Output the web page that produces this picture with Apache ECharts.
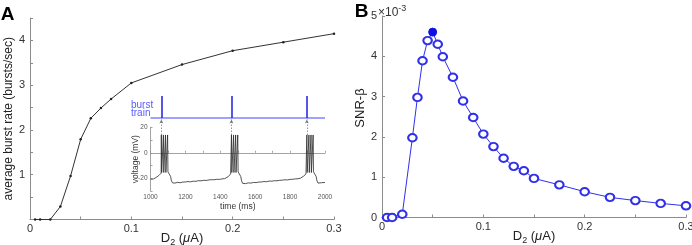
<!DOCTYPE html>
<html><head><meta charset="utf-8">
<script src="https://cdn.jsdelivr.net/npm/echarts@6/dist/echarts.min.js"></script>
<style>html,body{margin:0;padding:0;background:#fff}#c{width:692px;height:245px}</style>
</head><body><div id="c"></div>
<script>
// Panel A: average burst rate vs D2
const dA = [0.005, 0.01, 0.02, 0.03, 0.04, 0.05, 0.06, 0.07, 0.08, 0.1, 0.15, 0.2, 0.25, 0.3];
const burstRate = [0, 0, 0, 0.29, 0.97, 1.79, 2.26, 2.49, 2.69, 3.05, 3.46, 3.77, 3.96, 4.15];
// Panel B: SNR-beta (x10^-3) vs D2
const dB = [0.005, 0.01, 0.02, 0.03, 0.035, 0.04, 0.045, 0.05, 0.055, 0.06, 0.07, 0.08, 0.09, 0.1, 0.11, 0.12, 0.13, 0.14, 0.15, 0.175, 0.2, 0.225, 0.25, 0.275, 0.3];
const snr = [0.0, 0.0, 0.08, 1.98, 2.98, 3.89, 4.39, 4.6, 4.30, 3.99, 3.48, 2.89, 2.48, 2.07, 1.76, 1.47, 1.27, 1.16, 0.97, 0.81, 0.64, 0.50, 0.42, 0.35, 0.29];
const peakIndex = 7;
// Inset: voltage trace (time ms, voltage mV)
const traceTime = [1000,1008,1016,1024,1032,1040,1048,1055,1061,1062,1064,1073,1074,1076,1085,1086,1088,1097,1098,1100,1105,1110,1115,1120,1126,1140,1155,1170,1185,1200,1215,1230,1245,1260,1275,1290,1305,1320,1335,1350,1365,1380,1395,1410,1425,1436,1445,1452,1459,1463,1464,1466,1475,1476,1478,1487,1488,1490,1499,1500,1502,1507,1512,1517,1522,1528,1545,1560,1575,1590,1605,1620,1635,1650,1665,1680,1695,1710,1725,1740,1755,1770,1785,1800,1815,1830,1845,1858,1868,1877,1885,1891,1895,1896,1898,1907,1908,1910,1919,1920,1922,1931,1932,1934,1939,1944,1949,1954,1960,1970,1980,1990,2000];
const traceVolt = [-20.8,-20.3,-20.6,-19.8,-19.4,-18.6,-17.8,-16.8,-16,14,-15.5,-15,14,-15.5,-15,14,-15.5,-15,14,-15,-14.3,-15.2,-18.5,-22,-23.6,-23.8,-23.2,-23.5,-23,-22.9,-22.6,-22.8,-22.3,-22.4,-21.9,-22,-21.6,-21.7,-21.3,-21.1,-21.2,-20.8,-20.9,-20.5,-20.3,-19.6,-18.8,-17.8,-16.6,-16,14,-15.5,-15,14,-15.5,-15,14,-15.5,-15,14,-15,-14.3,-15.2,-18.5,-22,-24,-24.2,-23.6,-23.8,-23.3,-23.4,-23,-22.9,-22.6,-22.7,-22.2,-22.3,-21.9,-22,-21.6,-21.5,-21.2,-21.3,-20.9,-20.8,-20.5,-20.4,-20,-19.3,-18.4,-17.4,-16.6,-16,14,-15.5,-15,14,-15.5,-15,14,-15.5,-15,14,-15,-14.3,-15.2,-18.5,-22,-23.8,-24,-23.5,-23.7,-23.3];
const burstTimes = [1062, 1464, 1896];
const xTicksD = [0, 0.1, 0.2, 0.3];

const FF = 'Liberation Sans';
const AX = '#8c8c8c';
const LBL = '#333';
const BLUE = '#3030ea';

function dLabel(v) {
  for (const t of xTicksD) if (Math.abs(v - t) < 1e-9) return t === 0 ? '0' : t.toFixed(1);
  return '';
}
const dName = {
  name: '{a|D}{s|2}{a| (}{m|\u03bc}{a|A)}',
  nameLocation: 'middle',
  nameGap: 11,
  nameMoveOverlap: false,
  nameTextStyle: {
    rich: {
      a: {fontSize: 13, fontFamily: FF, color: '#222', lineHeight: 16},
      m: {fontSize: 13, fontFamily: FF, color: '#222', fontStyle: 'italic', lineHeight: 16},
      s: {fontSize: 9, fontFamily: FF, color: '#222', lineHeight: 9, padding: [8, 0, 0, 0]}
    }
  }
};
function mainX(grid) {
  return Object.assign({
    gridIndex: grid, type: 'value', min: 0, max: 0.3, interval: 0.05,
    axisLine: {lineStyle: {color: AX, width: 1}},
    axisTick: {inside: true, length: 3, lineStyle: {color: AX}},
    axisLabel: {color: LBL, fontSize: 11, fontFamily: FF, margin: 4, formatter: dLabel},
    splitLine: {show: false}
  }, dName);
}

const trace = traceTime.map((t, i) => [t, traceVolt[i]]);
const burstLines = burstTimes.map(t => [{coord: [t, 0]}, {coord: [t, 22]}]);
const arrowLines = burstTimes.map(t => [{coord: [t, -17]}, {coord: [t, -1.5]}]);

const chart = echarts.init(document.getElementById('c'), null, {renderer: 'canvas'});
chart.setOption({
  animation: false,
  grid: [
    {left: 30, top: 18, width: 304, height: 201.5, outerBoundsMode: 'none'},
    {left: 150.5, top: 127.3, width: 174.5, height: 63.7, outerBoundsMode: 'none'},
    {left: 150.5, top: 96, width: 174.5, height: 40, outerBoundsMode: 'none'},
    {left: 382, top: 16, width: 304, height: 201.5, outerBoundsMode: 'none'}
  ],
  xAxis: [
    mainX(0),
    {
      gridIndex: 1, type: 'value', min: 1000, max: 2000, interval: 100,
      axisLine: {lineStyle: {color: AX, width: 0.8}},
      axisTick: {inside: true, length: 2, lineStyle: {color: AX, width: 0.8}},
      axisLabel: {color: '#555', fontSize: 6.5, fontFamily: FF, margin: 3,
        formatter: v => (v % 200 === 0 ? String(v) : '')},
      splitLine: {show: false},
      name: 'time (ms)', nameLocation: 'middle', nameGap: 11, nameMoveOverlap: false,
      nameTextStyle: {fontSize: 8.5, fontFamily: FF, color: '#333'}
    },
    {gridIndex: 2, type: 'value', min: 1000, max: 2000, show: false},
    mainX(3)
  ],
  yAxis: [
    {
      gridIndex: 0, type: 'value', min: 0, max: 4.5, interval: 0.5,
      axisLine: {show: true, lineStyle: {color: AX, width: 1}},
      axisTick: {show: true, inside: true, length: 3, lineStyle: {color: AX}},
      axisLabel: {color: LBL, fontSize: 11, fontFamily: FF, margin: 5,
        formatter: v => (v > 0 && Math.abs(v - Math.round(v)) < 1e-9 ? String(Math.round(v)) : '')},
      splitLine: {show: false},
      name: 'average burst rate (bursts/sec)', nameLocation: 'middle', nameGap: 15, nameMoveOverlap: false,
      nameTextStyle: {fontSize: 12, fontFamily: FF, color: '#222'}
    },
    {
      gridIndex: 1, type: 'value', min: -30, max: 20, interval: 10,
      axisLine: {show: true, lineStyle: {color: AX, width: 0.8}},
      axisTick: {show: true, inside: true, length: 2, lineStyle: {color: AX, width: 0.8}},
      axisLabel: {color: '#555', fontSize: 6.5, fontFamily: FF, margin: 3,
        formatter: v => (v % 20 === 0 ? String(v) : '')},
      splitLine: {show: false},
      name: 'voltage (mV)', nameLocation: 'middle', nameGap: 10, nameMoveOverlap: false,
      nameTextStyle: {fontSize: 8.5, fontFamily: FF, color: '#333'}
    },
    {gridIndex: 2, type: 'value', min: -18, max: 22, show: false},
    {
      gridIndex: 3, type: 'value', min: 0, max: 5, interval: 1,
      axisLine: {show: true, lineStyle: {color: AX, width: 1}},
      axisTick: {show: true, inside: true, length: 3, lineStyle: {color: AX}},
      axisLabel: {color: LBL, fontSize: 11, fontFamily: FF, margin: 5},
      splitLine: {show: false}
    }
  ],
  series: [
    {
      type: 'line', xAxisIndex: 0, yAxisIndex: 0,
      data: dA.map((d, i) => [d, burstRate[i]]),
      symbol: 'circle', symbolSize: 2.5, showSymbol: true,
      lineStyle: {color: '#333', width: 1}, itemStyle: {color: '#222'}
    },
    {
      type: 'line', xAxisIndex: 1, yAxisIndex: 1, data: trace,
      showSymbol: false, symbol: 'none',
      lineStyle: {color: '#2a2a2a', width: 0.8}
    },
    {
      type: 'line', xAxisIndex: 2, yAxisIndex: 2,
      data: [[1000, 0], [2000, 0]], showSymbol: false, symbol: 'none',
      lineStyle: {color: '#8282ff', width: 1.6},
      markLine: {
        silent: true, symbol: ['none', 'none'], label: {show: false},
        lineStyle: {color: '#1e1ee6', width: 1.5, type: 'solid'},
        data: burstLines
      }
    },
    {
      type: 'line', xAxisIndex: 2, yAxisIndex: 2, data: [], symbol: 'none',
      markLine: {
        silent: true, symbol: ['none', 'arrow'], symbolSize: [3, 4], label: {show: false},
        lineStyle: {color: '#777', width: 0.8, type: [1.5, 1.5]},
        data: arrowLines
      }
    },
    {
      type: 'line', xAxisIndex: 3, yAxisIndex: 3,
      data: dB.map((d, i) => ({
        value: [d, snr[i]],
        symbol: i === peakIndex ? 'circle' : 'emptyCircle',
        symbolSize: i === peakIndex ? 8 : [8.5, 7.5],
        itemStyle: i === peakIndex ? {color: '#1010e0', borderColor: '#1010e0', borderWidth: 1} : {color: BLUE, borderColor: BLUE, borderWidth: 0.9}
      })),
      showSymbol: true,
      lineStyle: {color: BLUE, width: 1},
      itemStyle: {color: BLUE, borderColor: BLUE, borderWidth: 0.9}
    }
  ],
  graphic: [
    {type: 'text', x: 7.5, y: 15, style: {text: 'A', fontSize: 19, fontWeight: 'bold', fontFamily: FF, fill: '#000', align: 'center', verticalAlign: 'middle'}},
    {type: 'text', x: 361.5, y: 12, style: {text: 'B', fontSize: 19, fontWeight: 'bold', fontFamily: FF, fill: '#000', align: 'center', verticalAlign: 'middle'}},
    {type: 'text', x: 131, y: 105.5, style: {text: 'burst', fontSize: 10, fontFamily: FF, fill: '#5a5aff', align: 'left', verticalAlign: 'middle'}},
    {type: 'text', x: 131, y: 113.5, style: {text: 'train', fontSize: 10, fontFamily: FF, fill: '#5a5aff', align: 'left', verticalAlign: 'middle'}},
    {type: 'text', x: 378, y: 13, style: {
      text: '{a|\u00d710}{p|-3}', align: 'left', verticalAlign: 'middle',
      rich: {
        a: {fontSize: 12, fontFamily: FF, fill: '#333', lineHeight: 14},
        p: {fontSize: 9, fontFamily: FF, fill: '#333', lineHeight: 9, padding: [0, 0, 8, 0]}
      }
    }},
    {type: 'text', x: 360, y: 108, rotation: Math.PI / 2, style: {text: 'SNR-\u03b2', fontSize: 13, fontFamily: FF, fill: '#222', align: 'center', verticalAlign: 'middle'}}
  ]
});
</script></body></html>
